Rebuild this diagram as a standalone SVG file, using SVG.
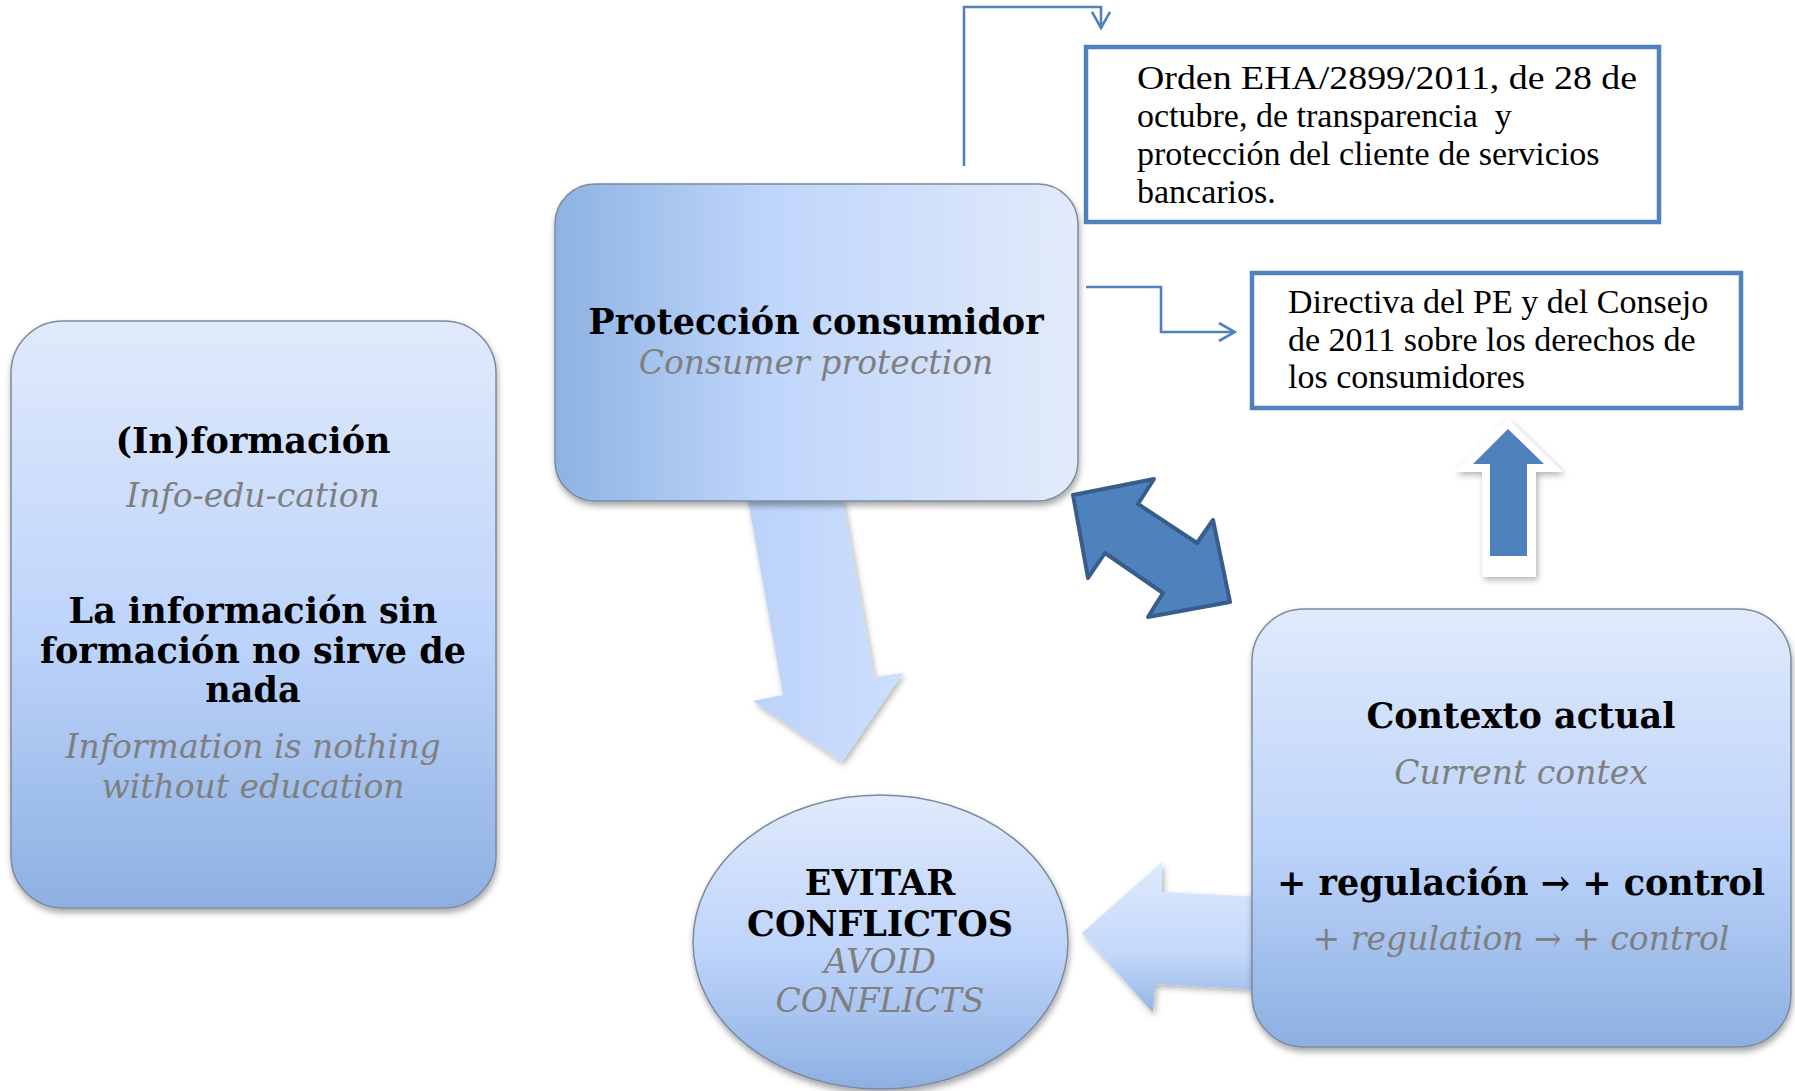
<svg xmlns="http://www.w3.org/2000/svg" width="1795" height="1091" viewBox="0 0 1795 1091">
<defs>
<linearGradient id="gV" x1="0" y1="0" x2="0" y2="1">
<stop offset="0" stop-color="#e0eafb"/>
<stop offset="0.55" stop-color="#bcd3fa"/>
<stop offset="1" stop-color="#8db0e1"/>
</linearGradient>
<linearGradient id="gH" x1="0" y1="0" x2="1" y2="0">
<stop offset="0" stop-color="#8db3e2"/>
<stop offset="0.4" stop-color="#bfd5fb"/>
<stop offset="1" stop-color="#e2ebfa"/>
</linearGradient>
<linearGradient id="gDown" x1="0" y1="0" x2="1" y2="0">
<stop offset="0" stop-color="#bbd2f9"/>
<stop offset="1" stop-color="#cddffd"/>
</linearGradient>
<linearGradient id="gLeft" x1="0" y1="0" x2="0" y2="1">
<stop offset="0" stop-color="#dfeafc"/>
<stop offset="0.6" stop-color="#c3d8fb"/>
<stop offset="1" stop-color="#94b4e4"/>
</linearGradient>
<filter id="sh" x="-10%" y="-10%" width="120%" height="125%">
<feDropShadow dx="1" dy="4" stdDeviation="3" flood-color="#000" flood-opacity="0.35"/>
</filter>
<filter id="shs" x="-20%" y="-20%" width="140%" height="140%">
<feDropShadow dx="2" dy="3" stdDeviation="3" flood-color="#000" flood-opacity="0.3"/>
</filter>
<marker id="open" viewBox="0 0 20 20" refX="18" refY="10" markerWidth="20" markerHeight="20" markerUnits="userSpaceOnUse" orient="auto">
<path d="M2,1 L18,10 L2,19" fill="none" stroke="#4f81bd" stroke-width="2.6"/>
</marker>
<style>
.box{stroke:#7b8aa0;stroke-width:1.5;filter:url(#sh)}
.b{font-family:"DejaVu Serif",Georgia,serif;font-weight:bold;fill:#000;text-anchor:middle;font-size:35px}
.i{font-family:"DejaVu Serif",Georgia,serif;font-style:italic;fill:#7f7f7f;text-anchor:middle;font-size:33px}
.doc{fill:#fff;stroke:#4f81bd;stroke-width:4.5}
.dt{font-family:"Liberation Serif","Times New Roman",serif;font-size:34px;fill:#000}
.con{fill:none;stroke:#4f81bd;stroke-width:2.6}
</style>
</defs>
<rect width="1795" height="1091" fill="#fff"/>

<g id="connectors">
<path class="con" d="M964,166 V7 H1101 V28" marker-end="url(#open)"/>
<path class="con" d="M1086,287 H1161 V332 H1235" marker-end="url(#open)"/>
<polygon id="arrow-down" points="747,495 842,495 874,677 903,673 842,762 753,701 783,695" fill="url(#gDown)" filter="url(#shs)"/>
<polygon id="arrow-left" points="1082,933 1162,862 1162,892 1262,897 1262,990 1155,984 1153,1013" fill="url(#gLeft)" filter="url(#shs)"/>
<polygon id="arrow-double" points="1073,495 1154,479 1138,504 1197,543 1213,520 1230,602 1148,617 1163,593 1105,553 1088,578" fill="#4f81bd" stroke="#385d8a" stroke-width="4" stroke-linejoin="round"/>
<g id="arrow-up">
<polygon points="1508,419 1563,472 1536,472 1536,577 1482,577 1482,472 1454,472" fill="#fff" filter="url(#shs)"/>
<polygon points="1508,429 1544,464 1527,464 1527,556 1490,556 1490,464 1473,464" fill="#4f81bd"/>
</g>
</g>

<g id="node-informacion">
<rect class="box" x="11" y="321" width="485" height="587" rx="52" fill="url(#gV)"/>
<text class="b" x="253" y="453" font-size="36">(In)formación</text>
<text class="i" x="253" y="507">Info-edu-cation</text>
<text class="b" x="253" y="623">La información sin</text>
<text class="b" x="253" y="663">formación no sirve de</text>
<text class="b" x="253" y="702">nada</text>
<text class="i" x="253" y="758">Information is nothing</text>
<text class="i" x="253" y="798">without education</text>
</g>

<g id="node-proteccion">
<rect class="box" x="555" y="184" width="523" height="317" rx="40" fill="url(#gH)"/>
<text class="b" x="816" y="334">Protección consumidor</text>
<text class="i" x="816" y="374">Consumer protection</text>
</g>

<g id="node-orden">
<rect class="doc" x="1086" y="47" width="573" height="175"/>
<text class="dt" x="1137" y="89" textLength="500" lengthAdjust="spacingAndGlyphs">Orden EHA/2899/2011, de 28 de</text>
<text class="dt" x="1137" y="127" xml:space="preserve">octubre, de transparencia  y</text>
<text class="dt" x="1137" y="165">protección del cliente de servicios</text>
<text class="dt" x="1137" y="203">bancarios.</text>
</g>

<g id="node-directiva">
<rect class="doc" x="1252" y="273" width="489" height="135"/>
<text class="dt" x="1288" y="313">Directiva del PE y del Consejo</text>
<text class="dt" x="1288" y="351">de 2011 sobre los derechos de</text>
<text class="dt" x="1288" y="388">los consumidores</text>
</g>

<g id="node-evitar">
<ellipse class="box" cx="880.5" cy="942" rx="187.5" ry="147" fill="url(#gV)"/>
<text class="b" x="880" y="895">EVITAR</text>
<text class="b" x="880" y="936">CONFLICTOS</text>
<text class="i" x="880" y="973">AVOID</text>
<text class="i" x="880" y="1012">CONFLICTS</text>
</g>

<g id="node-contexto">
<rect class="box" x="1252" y="609" width="539" height="438" rx="52" fill="url(#gV)"/>
<text class="b" x="1521" y="728">Contexto actual</text>
<text class="i" x="1521" y="784" font-size="32">Current contex</text>
<text class="b" x="1521" y="895">+ regulación → + control</text>
<text class="i" x="1521" y="950" font-size="32">+ regulation → + control</text>
</g>
</svg>
